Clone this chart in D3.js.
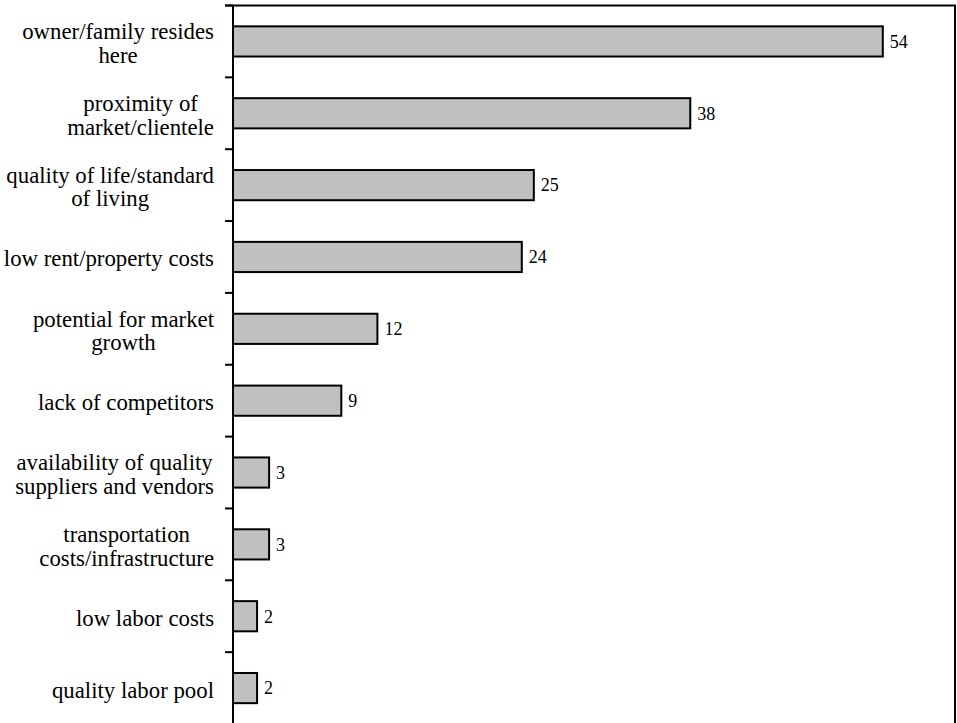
<!DOCTYPE html>
<html>
<head>
<meta charset="utf-8">
<script src="https://cdn.jsdelivr.net/npm/d3@7"></script>
<style>
  body { margin: 0; background: #fff; }
</style>
</head>
<body>
<svg id="chart" width="957" height="723" font-family="'Liberation Serif', 'DejaVu Serif', serif"></svg>
<script>
// reasons for location, share of firms (%)
var categories = [
  ["owner/family resides", "here"],
  ["proximity of", "market/clientele"],
  ["quality of life/standard", "of living"],
  ["low rent/property costs"],
  ["potential for market", "growth"],
  ["lack of competitors"],
  ["availability of quality", "suppliers and vendors"],
  ["transportation", "costs/infrastructure"],
  ["low labor costs"],
  ["quality labor pool"]
];
var values = [54, 38, 25, 24, 12, 9, 3, 3, 2, 2];

var svg = d3.select("#chart");
var plotL = 233, plotR = 955, plotT = 5.5, plotB = 724;

var x = d3.scaleLinear().domain([0, 60]).range([plotL, plotR]);
var y = d3.scaleBand().domain(d3.range(values.length)).range([plotT, plotB])
  .paddingInner(0.58).paddingOuter(0.29);

// frame: top and right edges
svg.append("path")
  .attr("d", "M" + (plotL - 8) + "," + plotT + "H" + plotR + "V" + plotB)
  .attr("fill", "none").attr("stroke", "#000").attr("stroke-width", 2);

// bars
svg.selectAll("rect.bar").data(values).enter()
  .append("rect").attr("class", "bar")
  .attr("x", x(0))
  .attr("y", function (d, i) { return y(i); })
  .attr("width", function (d) { return x(d) - x(0); })
  .attr("height", y.bandwidth())
  .attr("fill", "#c0c0c0").attr("stroke", "#000").attr("stroke-width", 2);

// value labels
svg.selectAll("text.val").data(values).enter()
  .append("text").attr("class", "val")
  .attr("x", function (d) { return x(d) + 7; })
  .attr("y", function (d, i) { return y(i) + y.bandwidth() / 2; })
  .attr("dy", "0.35em")
  .attr("font-size", 18)
  .text(function (d) { return d; });

// category axis: line + ticks at band boundaries
var edges = d3.range(values.length + 1).map(function (i) { return plotT + i * (plotB - plotT) / values.length; });
svg.append("line").attr("x1", plotL).attr("x2", plotL).attr("y1", plotT).attr("y2", plotB)
  .attr("stroke", "#000").attr("stroke-width", 2);
svg.selectAll("line.tick").data(edges).enter()
  .append("line").attr("class", "tick")
  .attr("x1", plotL - 8).attr("x2", plotL)
  .attr("y1", function (d) { return d; }).attr("y2", function (d) { return d; })
  .attr("stroke", "#000").attr("stroke-width", 2);

// wrapped category labels: block right-aligned, lines centred inside it
var lineH = 23.5, labelRight = 214;
categories.forEach(function (lines, i) {
  var cy = (edges[i] + edges[i + 1]) / 2 + 1.5;
  var g = svg.append("g");
  var ts = lines.map(function (s, j) {
    return g.append("text")
      .attr("y", cy + (j - (lines.length - 1) / 2) * lineH)
      .attr("dy", "0.35em")
      .attr("font-size", 22.8)
      .text(s);
  });
  var w = d3.max(ts, function (t) { return t.node().getComputedTextLength(); });
  ts.forEach(function (t) {
    t.attr("x", labelRight - w / 2).attr("text-anchor", "middle");
  });
});
</script>
</body>
</html>
